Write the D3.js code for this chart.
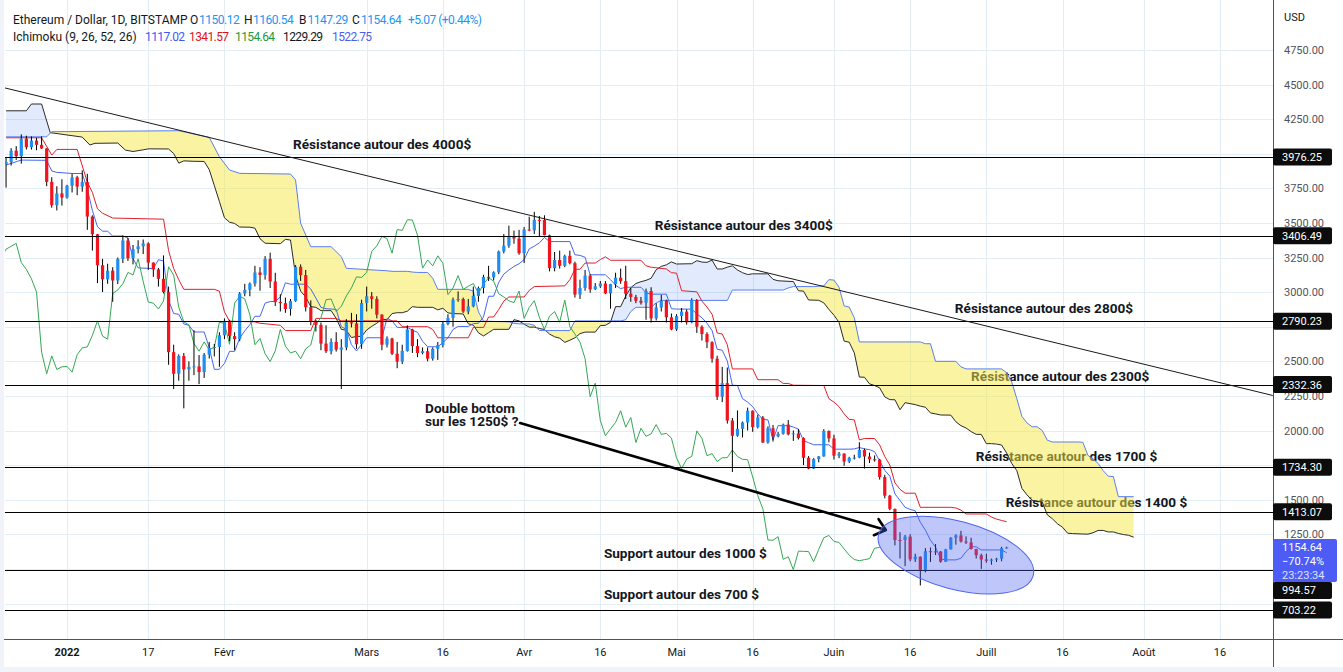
<!DOCTYPE html>
<html>
<head>
<meta charset="utf-8">
<script src="https://cdn.jsdelivr.net/npm/d3@7/dist/d3.min.js"></script>
<style>
  body { margin: 0; background: #ffffff; }
  svg { display: block; font-family: Roboto, "Noto Sans", sans-serif; }
</style>
</head>
<body>
<svg id="chart" width="1343" height="672"></svg>
<script>
// ETH / USD daily candles (Bitstamp), 2021-12-20 .. 2022-07-05
var firstDay = "2021-12-20";

var opens = [3923,3941,4022,3982,4109,4047,4095,4064,4038,3796,3628,3713,
  3683,3769,3829,3762,3795,3546,3418,3194,3092,3155,3084,3240,3373,3244,3310,3331,3352,3213,3164,3096,3000,2566,2410,2539,2441,2460,2463,2422,2548,2597,2604,
  2688,2792,2682,2660,2990,3016,3061,3142,3124,3240,3077,2928,2920,2878,2935,3183,3123,2891,2785,2763,2628,2573,2640,2584,2600,2782,2774,2623,
  2921,2970,2951,2837,2620,2665,2555,2498,2575,2730,2610,2560,2573,2519,2590,2618,2770,2814,2945,2950,2860,2897,2972,3030,3110,3106,3143,3294,3335,3402,3387,
  3281,3452,3446,3522,3521,3411,3173,3232,3190,3262,3209,2982,3030,3119,3020,3042,3062,2991,3058,3104,3079,2988,2965,2937,2924,3008,2810,2889,2938,2818,
  2730,2827,2859,2782,2942,2750,2697,2638,2519,2244,2342,2072,1962,2012,2058,2143,2024,2094,1913,2016,1958,1976,2043,1972,1979,1945,1803,1725,1793,1813,1997,
  1943,1818,1833,1776,1803,1804,1859,1812,1792,1789,1664,1529,1434,1209,1209,1233,1069,1088,994,1128,1127,1125,1052,1141,1225,1242,1198,1191,1144,1099,
  1068,1059,1067,1074,1150.12];

var highs = [3975,4040,4055,4140,4130,4125,4115,4125,4040,3830,3765,3815,
  3775,3855,3840,3880,3855,3555,3420,3240,3205,3180,3250,3410,3390,3340,3375,3380,3360,3215,3175,3265,3040,2620,2550,2560,2500,2725,2545,2560,2640,2625,2710,
  2810,2800,2710,3000,3060,3070,3190,3180,3260,3285,3140,2985,2960,2950,3195,3200,3160,2940,2800,2780,2760,2665,2710,2660,2805,2850,2840,2945,
  3040,3000,2970,2840,2680,2670,2640,2620,2760,2735,2660,2600,2600,2600,2640,2790,2840,2960,3005,2960,2950,3040,3040,3125,3190,3150,3300,3420,3480,3445,3450,
  3470,3545,3580,3550,3555,3415,3290,3300,3270,3300,3220,3090,3160,3130,3065,3080,3080,3060,3140,3170,3190,3030,2980,2965,3025,3035,2920,2980,2945,2845,
  2840,2885,2875,2955,2950,2760,2710,2645,2540,2460,2455,2090,2145,2065,2165,2145,2115,2105,2030,2040,1990,2050,2075,2000,2010,1950,1815,1800,1815,2010,2000,
  1970,1845,1835,1810,1825,1915,1870,1840,1820,1795,1680,1535,1435,1265,1245,1250,1110,1090,1150,1155,1180,1130,1145,1230,1250,1275,1235,1225,1145,1110,
  1110,1075,1080,1160,1160.54];

var lows = [3755,3915,3955,3928,4030,4030,4025,4035,3765,3610,3590,3625,
  3675,3720,3700,3725,3450,3300,3065,3000,3060,2930,3058,3210,3225,3200,3280,3275,3160,3110,3040,2990,2475,2300,2360,2160,2360,2400,2335,2380,2520,2535,2460,
  2660,2645,2580,2645,2970,2970,3040,3010,3090,3030,2900,2860,2850,2830,2930,3080,2860,2760,2715,2580,2560,2550,2570,2300,2580,2745,2590,2590,
  2860,2880,2810,2580,2600,2545,2450,2480,2570,2560,2530,2550,2500,2505,2510,2600,2760,2750,2930,2850,2840,2890,2930,2990,3080,3085,3130,3280,3320,3350,3270,
  3210,3440,3420,3400,3410,3150,3150,3170,3180,3200,2960,2950,3010,2995,3015,3030,2985,2880,3030,3060,2950,2930,2920,2910,2800,2780,2795,2860,2780,2725,
  2720,2780,2765,2775,2705,2650,2595,2490,2220,2205,2050,1700,1955,1950,2000,1990,2015,1910,1905,1920,1950,1970,1965,1925,1935,1750,1720,1722,1770,1810,1915,
  1790,1800,1745,1765,1790,1800,1725,1765,1775,1645,1510,1425,1170,1075,1020,1055,1050,880,975,1050,1100,1045,1050,1140,1175,1190,1180,1140,1075,1000,
  1045,1030,1050,1055,1147.29];

var closes = [3941,4022,3982,4109,4047,4095,4064,4038,3796,3628,3713,3683,
  3769,3829,3762,3795,3546,3418,3194,3092,3155,3084,3240,3373,3244,3310,3331,3352,3213,3164,3096,3000,2566,2410,2539,2441,2460,2463,2422,2548,2597,2604,2688,
  2792,2682,2660,2990,3016,3061,3142,3124,3240,3077,2928,2920,2878,2935,3183,3123,2891,2785,2763,2628,2573,2640,2584,2600,2782,2774,2623,2921,
  2970,2951,2837,2620,2665,2555,2498,2575,2730,2610,2560,2573,2519,2590,2618,2770,2814,2945,2950,2860,2897,2972,3030,3110,3106,3143,3294,3335,3402,3387,3281,
  3452,3446,3522,3521,3411,3173,3232,3190,3262,3209,2982,3030,3119,3020,3042,3062,2991,3058,3104,3079,2988,2965,2937,2924,3008,2810,2889,2938,2818,2730,
  2827,2859,2782,2942,2750,2697,2638,2519,2244,2342,2072,1962,2012,2058,2143,2024,2094,1913,2016,1958,1976,2043,1972,1979,1945,1803,1725,1793,1813,1997,1943,
  1818,1833,1776,1803,1804,1859,1812,1792,1789,1664,1529,1434,1209,1207,1233,1069,1088,994,1128,1127,1125,1052,1141,1225,1242,1198,1191,1144,1099,1068,
  1059,1067,1074,1150,1154.64];

// Ichimoku lines: [days from 2022-01-01, price]
var tenkan = [[-12,3918],[-10,3942],[-9,3954],[-4,3952],[-3,3875],[-2,3865],[0,3860],[1,3857],[3,3857],[4,3745],[5,3590],[6,3472],[7,3440],[8,3440],[9,3405],[11,3405],[12,3392],[13,3242],[14,3175],[17,3170],[18,3234],[19,3225],[20,2942],[21,2845],[22,2840],[23,2770],[24,2760],[25,2712],[27,2712],[28,2600],[29,2442],[30,2442],[31,2485],[32,2572],[33,2572],[34,2667],[35,2720],[36,2765],[37,2825],[38,2825],[39,2920],[40,2932],[41,2932],[42,2965],[43,3067],[44,3057],[47,3057],[48,3022],[49,2957],[50,2890],[51,2880],[53,2875],[54,2750],[55,2730],[56,2620],[57,2575],[58,2622],[59,2670],[62,2670],[63,2810],[64,2792],[65,2745],[67,2745],[68,2725],[69,2710],[70,2645],[71,2605],[73,2605],[74,2635],[75,2670],[76,2730],[77,2752],[79,2752],[80,2772],[81,2775],[82,2820],[83,2970],[84,2970],[85,3070],[86,3130],[87,3160],[88,3185],[89,3205],[90,3235],[91,3312],[92,3332],[93,3355],[94,3395],[95,3365],[99,3365],[100,3270],[101,3265],[102,3252],[103,3125],[106,3125],[107,3090],[108,3050],[109,3025],[110,3035],[113,3035],[114,2995],[115,2985],[118,2985],[119,2880],[120,2877],[123,2877],[124,2842],[125,2815],[126,2775],[127,2722],[128,2587],[129,2580],[130,2502],[131,2327],[132,2325],[133,2230],[134,2205],[135,2172],[136,2120],[137,2080],[138,2077],[139,1932],[140,2035],[142,2035],[143,2025],[144,2010],[145,1927],[146,1912],[147,1897],[150,1897],[151,1865],[154,1865],[155,1867],[156,1877],[157,1867],[158,1862],[159,1847],[160,1780],[161,1712],[162,1670],[163,1542],[164,1495],[165,1445],[166,1430],[167,1420],[168,1337],[169,1280],[170,1207],[171,1157],[172,1072],[173,1065],[175,1065],[176,1077],[177,1125],[178,1160],[179,1160],[180,1137],[184,1137],[185,1117]];

var kijun = [[-12,4115],[-5,4115],[-3,3990],[-2,4031],[2,4031],[4,3795],[5,3720],[6,3602],[7,3570],[9,3535],[19,3527],[20,3300],[21,3170],[22,3090],[23,3020],[29,3020],[30,3007],[31,2857],[32,2790],[37,2785],[38,2775],[42,2760],[43,2722],[48,2722],[49,2810],[53,2810],[54,2792],[65,2792],[66,2750],[71,2750],[72,2730],[73,2670],[79,2670],[80,2745],[82,2745],[83,2820],[84,2820],[85,2875],[86,2935],[87,2965],[90,2965],[91,3012],[92,3040],[98,3045],[99,3090],[100,3165],[101,3165],[102,3210],[104,3210],[105,3235],[106,3255],[107,3230],[113,3230],[114,3190],[115,3180],[118,3167],[119,3140],[120,3137],[121,3010],[124,3002],[125,2935],[126,2892],[127,2840],[128,2705],[129,2697],[130,2620],[131,2445],[135,2445],[136,2367],[140,2367],[141,2340],[142,2340],[143,2327],[149,2325],[150,2230],[151,2205],[152,2172],[153,2120],[154,2080],[155,2077],[156,1932],[157,1942],[159,1942],[160,1895],[161,1812],[162,1750],[163,1622],[164,1575],[165,1547],[167,1547],[168,1445],[174,1445],[175,1440],[176,1425],[177,1397],[181,1397],[182,1375],[183,1360],[184,1350],[185,1341]];

// leading spans, already at their plotted (shifted) day
var spanA = [[-12,4310],[-8,4310],[-7,4359],[-5,4359],[-3.3,4152],[3,4120],[4.5,4063],[5.5,4075],[10,4077],[11.5,4026],[13,4016],[15,4028],[16,4035],[20,4034],[21,4001],[22,3932],[23,3948],[25,3945],[27,3944],[28,3885],[29,3770],[30,3655],[31,3537],[32,3505],[33,3496],[34,3470],[36,3469],[37,3462],[38,3386],[39,3353],[42,3350],[43,3381],[44,3376],[45,3121],[46,3007],[47,2965],[48,2895],[49,2890],[50,2866],[52,2866],[53,2810],[54,2731],[55,2724],[56,2671],[57,2681],[58,2679],[59,2726],[60,2753],[61,2775],[62,2805],[63,2800],[64,2845],[65,2851],[66,2851],[67,2862],[68,2895],[69,2890],[72,2890],[73,2872],[74,2883],[75,2850],[76,2845],[78,2842],[79,2771],[80,2761],[81,2706],[82,2683],[83,2707],[84,2731],[87,2731],[88,2801],[89,2792],[90,2768],[91,2747],[92,2747],[93,2737],[94,2730],[95,2697],[96,2677],[97,2667],[98,2637],[99,2652],[100,2670],[101,2700],[102,2711],[104,2711],[105,2758],[106,2760],[107,2782],[108,2895],[109,2895],[110,2972],[111,3032],[112,3062],[113,3075],[114,3085],[115,3100],[116,3162],[117,3186],[118,3197],[119,3218],[120,3203],[123,3205],[124,3227],[125,3217],[126,3215],[127,3231],[128,3167],[129,3167],[130,3180],[131,3190],[132,3160],[133,3140],[134,3127],[135,3132],[138,3132],[139,3092],[140,3082],[143,3076],[144,3010],[145,3007],[146,2943],[148,2941],[149,2922],[150,2875],[151,2833],[152,2781],[153,2646],[154,2638],[155,2561],[156,2386],[157,2385],[158,2337],[159,2325],[160,2308],[161,2243],[162,2223],[163,2222],[164,2150],[165,2201],[167,2187],[168,2176],[169,2168],[170,2127],[171,2120],[172,2112],[174,2111],[175,2063],[176,2035],[177,2018],[178,1992],[179,1972],[180,1972],[181,1905],[182,1905],[183,1902],[184,1895],[185,1837],[186,1762],[187,1710],[188,1582],[189,1535],[190,1496],[191,1488],[192,1483],[193,1391],[194,1362],[195,1326],[196,1301],[197,1258],[198,1255],[200,1252],[201,1251],[202,1261],[203,1278],[204,1278],[205,1267],[206,1267],[207,1256],[208,1248],[209,1243],[210,1229]];

var spanB = [[-12,4122],[-4,4122],[-3,4159],[22,4166],[28,4118],[30,3978],[32,3882],[34,3858],[44,3853],[45,3810],[46,3497],[48,3328],[52,3328],[54,3256],[55,3172],[63,3154],[64,3150],[67,3150],[68,3145],[69,3142],[71,3142],[72,3100],[73,3020],[79,3020],[80,3007],[81,2857],[82,2790],[87,2785],[88,2775],[89,2770],[91,2770],[92,2760],[93,2722],[99,2722],[100,2792],[109,2792],[110,2800],[111,2860],[112,2890],[115,2890],[116,2922],[117,2940],[130,2940],[131,3015],[141,3015],[142,3030],[143,3040],[147,3040],[148,3042],[149,3045],[150,3090],[151,3087],[152,3035],[153,2900],[154,2892],[155,2815],[156,2640],[168,2640],[169,2627],[170,2627],[171,2500],[175,2500],[176,2460],[177,2445],[184,2445],[185,2417],[186,2350],[187,2230],[188,2102],[189,2055],[190,2027],[191,2027],[192,2000],[193,1930],[194,1917],[199,1917],[200,1915],[201,1820],[202,1795],[203,1762],[204,1710],[205,1670],[206,1667],[207,1522],[210,1522]];

var lagShift = 25;
var ichimokuNow = ["1117.02", "1341.57", "1154.64", "1229.29", "1522.75"];

var levels = [3976.25, 3406.49, 2790.23, 2332.36, 1734.30, 1413.07, 994.57, 703.22];
var priceTicks = [750, 1000, 1250, 1500, 1750, 2000, 2250, 2500, 2750, 3000, 3250, 3500, 3750, 4000, 4250, 4500, 4750];
var dateTicks = ["2022-01-01","2022-01-17","2022-02-01","2022-03-01","2022-03-16","2022-04-01","2022-04-16","2022-05-01","2022-05-16","2022-06-01","2022-06-16","2022-07-01","2022-07-16","2022-08-01","2022-08-16"];
var dateLabels = ["2022","17","Févr","Mars","16","Avr","16","Mai","16","Juin","16","Juill","16","Août","16"];

var notes = [
  {t: "Résistance autour des 4000$", d: 44.5, p: 4034},
  {t: "Résistance autour des 3400$", d: 115.7, p: 3449},
  {t: "Résistance autour des 2800$", d: 174.8, p: 2849},
  {t: "Résistance autour des 2300$", d: 178, p: 2358},
  {t: "Résistance autour des 1700 $", d: 178.9, p: 1780},
  {t: "Résistance autour des 1400 $", d: 184.8, p: 1447},
  {t: "Double bottom", d: 70.5, p: 2130},
  {t: "sur les 1250$ ?", d: 70.5, p: 2032},
  {t: "Support autour des 1000 $", d: 105.7, p: 1079},
  {t: "Support autour des 700 $", d: 105.7, p: 782}
];
var trend = [[-12.2, 4475], [237.4, 2253]];
var arrow = [[89.2, 2054], [161.2, 1281]];
var circle = {d: 175, p: 1100};

// ------------------------------------------------------------------
var left = 5, right = 1273, bottom = 639;
var upColor = "#1f8ef1", downColor = "#f2131c";

var day0 = Date.UTC(2022, 0, 1);
var x = d3.scaleUtc()
  .domain([new Date(day0), new Date(Date.UTC(2022, 7, 16))])
  .range([67, 1220]);
var y = d3.scaleLinear().domain([500, 5000]).range([638.1, 15.3]);
function xd(d) { return x(new Date(day0 + d * 864e5)); }
var firstOffset = (Date.parse(firstDay) - day0) / 864e5;

var candles = opens.map(function(o, i) {
  return {d: firstOffset + i, o: o, h: highs[i], l: lows[i], c: closes[i]};
});

var svg = d3.select("#chart");
svg.append("rect").attr("width", 1343).attr("height", 672).attr("fill", "#f0f3fa");
svg.append("rect").attr("x", 4).attr("width", 1339).attr("height", 667).attr("fill", "#ffffff");

var defs = svg.append("defs");
defs.append("clipPath").attr("id", "plot")
  .append("rect").attr("x", left).attr("y", 0).attr("width", right - left).attr("height", bottom);
defs.append("clipPath").attr("id", "aboveA")
  .append("path").attr("d", d3.area()
    .x(function(d) { return xd(d[0]); }).y0(0).y1(function(d) { return y(d[1]); })(spanA));
defs.append("clipPath").attr("id", "aboveB")
  .append("path").attr("d", d3.area()
    .x(function(d) { return xd(d[0]); }).y0(0).y1(function(d) { return y(d[1]); })(spanB));

// grid
var grid = svg.append("g").attr("stroke", "#e3edf5").attr("stroke-width", 1).attr("shape-rendering", "crispEdges");
grid.selectAll(".h").data(priceTicks).enter().append("line")
  .attr("x1", left).attr("x2", right)
  .attr("y1", function(d) { return Math.round(y(d)) + 0.5; })
  .attr("y2", function(d) { return Math.round(y(d)) + 0.5; });
grid.selectAll(".v").data(dateTicks).enter().append("line")
  .attr("x1", function(d) { return Math.round(x(new Date(d))) + 0.5; })
  .attr("x2", function(d) { return Math.round(x(new Date(d))) + 0.5; })
  .attr("y1", 0).attr("y2", bottom);

var plot = svg.append("g").attr("clip-path", "url(#plot)");

// annotation texts (under the cloud)
plot.selectAll(".note").data(notes).enter().append("text")
  .attr("x", function(d) { return xd(d.d); })
  .attr("y", function(d) { return y(d.p); })
  .attr("font-size", "13.6px")
  .attr("font-weight", "bold")
  .attr("fill", "#131722")
  .text(function(d) { return d.t; });

// cloud
plot.append("g").attr("clip-path", "url(#aboveA)")
  .append("path")
  .attr("d", d3.area().x(function(d) { return xd(d[0]); })
    .y0(function(d) { return y(d[1]); }).y1(bottom)(spanB))
  .attr("fill", "rgba(245,232,70,0.5)");
plot.append("g").attr("clip-path", "url(#aboveB)")
  .append("path")
  .attr("d", d3.area().x(function(d) { return xd(d[0]); })
    .y0(function(d) { return y(d[1]); }).y1(bottom)(spanA))
  .attr("fill", "rgba(66,133,244,0.16)");

var pairLine = d3.line().x(function(d) { return xd(d[0]); }).y(function(d) { return y(d[1]); });
plot.append("path").attr("d", pairLine(spanA)).attr("fill", "none").attr("stroke", "#2b2b2b").attr("stroke-width", 1);
plot.append("path").attr("d", pairLine(spanB)).attr("fill", "none").attr("stroke", "#5b7ff0").attr("stroke-width", 1);
plot.append("path").attr("d", pairLine(tenkan)).attr("fill", "none").attr("stroke", "#4466f5").attr("stroke-width", 1);
plot.append("path").attr("d", pairLine(kijun)).attr("fill", "none").attr("stroke", "#e0202b").attr("stroke-width", 1);
plot.append("path")
  .attr("d", d3.line()
    .x(function(c, i) { return xd(firstOffset + i - lagShift); })
    .y(function(c) { return y(c); })(closes))
  .attr("fill", "none").attr("stroke", "#34a853").attr("stroke-width", 1);

// candles
var cg = plot.append("g");
cg.selectAll(".wick").data(candles).enter().append("line")
  .attr("x1", function(d) { return xd(d.d); })
  .attr("x2", function(d) { return xd(d.d); })
  .attr("y1", function(d) { return y(d.h); })
  .attr("y2", function(d) { return y(d.l); })
  .attr("stroke", "#000").attr("stroke-width", 1);
cg.selectAll(".body").data(candles).enter().append("rect")
  .attr("x", function(d) { return xd(d.d) - 1.6; })
  .attr("width", 3.2)
  .attr("y", function(d) { return y(Math.max(d.o, d.c)); })
  .attr("height", function(d) { return Math.max(1, Math.abs(y(d.o) - y(d.c))); })
  .attr("fill", function(d) { return d.c >= d.o ? upColor : downColor; });

// drawings
plot.selectAll(".level").data(levels).enter().append("line")
  .attr("x1", left).attr("x2", right)
  .attr("y1", function(d) { return Math.round(y(d)) + 0.5; })
  .attr("y2", function(d) { return Math.round(y(d)) + 0.5; })
  .attr("stroke", "#000").attr("stroke-width", 1).attr("shape-rendering", "crispEdges");

plot.append("line")
  .attr("x1", xd(trend[0][0])).attr("y1", y(trend[0][1]))
  .attr("x2", xd(trend[1][0])).attr("y2", y(trend[1][1]))
  .attr("stroke", "#1a1a1a").attr("stroke-width", 1);

var ax1 = xd(arrow[0][0]), ay1 = y(arrow[0][1]), ax2 = xd(arrow[1][0]), ay2 = y(arrow[1][1]);
var ang = Math.atan2(ay2 - ay1, ax2 - ax1);
plot.append("line").attr("x1", ax1).attr("y1", ay1).attr("x2", ax2).attr("y2", ay2)
  .attr("stroke", "#000").attr("stroke-width", 2.6).attr("stroke-linecap", "round");
plot.append("path")
  .attr("d", "M" + (ax2 - 13 * Math.cos(ang - 0.7)) + "," + (ay2 - 13 * Math.sin(ang - 0.7)) +
    "L" + ax2 + "," + ay2 +
    "L" + (ax2 - 13 * Math.cos(ang + 0.7)) + "," + (ay2 - 13 * Math.sin(ang + 0.7)))
  .attr("fill", "none").attr("stroke", "#000").attr("stroke-width", 2.6)
  .attr("stroke-linecap", "round").attr("stroke-linejoin", "round");

var ecx = xd(circle.d), ecy = y(circle.p);
plot.append("ellipse")
  .attr("cx", ecx).attr("cy", ecy).attr("rx", 80).attr("ry", 34)
  .attr("transform", "rotate(15," + ecx + "," + ecy + ")")
  .attr("fill", "rgba(77,100,240,0.36)")
  .attr("stroke", "#4d64f0").attr("stroke-width", 1);

// axes frame
svg.append("line").attr("x1", right + 0.5).attr("x2", right + 0.5).attr("y1", 0).attr("y2", 667)
  .attr("stroke", "#50535e").attr("stroke-width", 1);
svg.append("line").attr("x1", 4).attr("x2", 1343).attr("y1", bottom + 0.5).attr("y2", bottom + 0.5)
  .attr("stroke", "#50535e").attr("stroke-width", 1);

var fmt = d3.format(".2f");
var last = candles[candles.length - 1];

// tag positions: current price first, level tags pushed below it when they would collide
var tagTop = y(last.c) - 8.5, tagH = 43;
var prevBottom = -100;
var tagPos = levels.slice().sort(function(a, b) { return b - a; }).map(function(v) {
  var top = y(v) - 8.5;
  if (top < tagTop + tagH && top + 17 > tagTop) top = tagTop + tagH;
  if (top < prevBottom) top = prevBottom;
  prevBottom = top + 17;
  return {v: v, top: top};
});
var boxes = tagPos.map(function(t) { return [t.top, t.top + 17]; }).concat([[tagTop, tagTop + tagH]]);

// right axis labels (the ones hidden behind a tag are not drawn)
var shownTicks = priceTicks.filter(function(p) {
  var c = y(p);
  return !boxes.some(function(b) { return c >= b[0] - 2 && c <= b[1] + 2; });
});
svg.append("text").attr("x", 1284).attr("y", 21).attr("font-size", "11px").attr("fill", "#131722").text("USD");
svg.selectAll(".ptick").data(shownTicks).enter().append("text")
  .attr("x", 1284).attr("y", function(d) { return y(d) + 4; })
  .attr("font-size", "11px").attr("fill", "#50535e")
  .text(function(d) { return fmt(d); });

svg.append("rect").attr("x", right).attr("y", tagTop).attr("width", 64).attr("height", tagH)
  .attr("rx", 2).attr("fill", "#4c5cf5");
svg.append("text").attr("x", 1282).attr("y", tagTop + 12.5).attr("font-size", "11px").attr("fill", "#fff").text(fmt(last.c));
svg.append("text").attr("x", 1282).attr("y", tagTop + 26.5).attr("font-size", "11px").attr("fill", "#fff").text("\u221270.74%");
svg.append("text").attr("x", 1282).attr("y", tagTop + 40).attr("font-size", "11px").attr("fill", "#dfe3ff").text("23:23:34");

svg.selectAll(".tag").data(tagPos).enter().append("rect")
  .attr("x", right).attr("y", function(d) { return d.top; })
  .attr("width", 59).attr("height", 17).attr("rx", 2).attr("fill", "#0c0c0c");
svg.selectAll(".tagtext").data(tagPos).enter().append("text")
  .attr("x", 1282).attr("y", function(d) { return d.top + 12.5; })
  .attr("font-size", "11px").attr("fill", "#fff")
  .text(function(d) { return fmt(d.v); });

// bottom axis labels
svg.selectAll(".dtick").data(dateTicks).enter().append("text")
  .attr("x", function(d) { return x(new Date(d)); })
  .attr("y", 656)
  .attr("text-anchor", "middle")
  .attr("font-size", "11px")
  .attr("font-weight", function(d, i) { return i === 0 ? "bold" : "normal"; })
  .attr("fill", "#131722")
  .text(function(d, i) { return dateLabels[i]; });

// legend header
var blue = "#2196f3";
var h1 = [
  {t: "Ethereum / Dollar, 1D, BITSTAMP", x: 13, c: "#131722", n: 0},
  {t: "O", x: 190, c: "#131722", n: 0}, {t: fmt(last.o), x: 199, c: blue, n: 1},
  {t: "H", x: 244, c: "#131722", n: 0}, {t: fmt(last.h), x: 253, c: blue, n: 1},
  {t: "B", x: 299, c: "#131722", n: 0}, {t: fmt(last.l), x: 307.5, c: blue, n: 1},
  {t: "C", x: 352, c: "#131722", n: 0}, {t: fmt(last.c), x: 361, c: blue, n: 1},
  {t: "+5.07 (+0.44%)", x: 408, c: blue, n: 1}
];
var h2 = [
  {t: "Ichimoku (9, 26, 52, 26)", x: 13, c: "#131722", n: 0},
  {t: ichimokuNow[0], x: 145, c: "#3b5bf5", n: 1},
  {t: ichimokuNow[1], x: 189, c: "#e0101e", n: 1},
  {t: ichimokuNow[2], x: 235, c: "#1c9a3c", n: 1},
  {t: ichimokuNow[3], x: 283, c: "#131722", n: 1},
  {t: ichimokuNow[4], x: 332, c: "#4a5ff0", n: 1}
];
svg.selectAll(".h1").data(h1).enter().append("text")
  .attr("x", function(d) { return d.x; }).attr("y", 24)
  .attr("font-size", "12px").attr("fill", function(d) { return d.c; })
  .attr("letter-spacing", function(d) { return d.n ? "-0.5px" : null; })
  .text(function(d) { return d.t; });
svg.selectAll(".h2").data(h2).enter().append("text")
  .attr("x", function(d) { return d.x; }).attr("y", 41)
  .attr("font-size", "12px").attr("fill", function(d) { return d.c; })
  .attr("letter-spacing", function(d) { return d.n ? "-0.6px" : null; })
  .text(function(d) { return d.t; });
</script>
</body>
</html>
